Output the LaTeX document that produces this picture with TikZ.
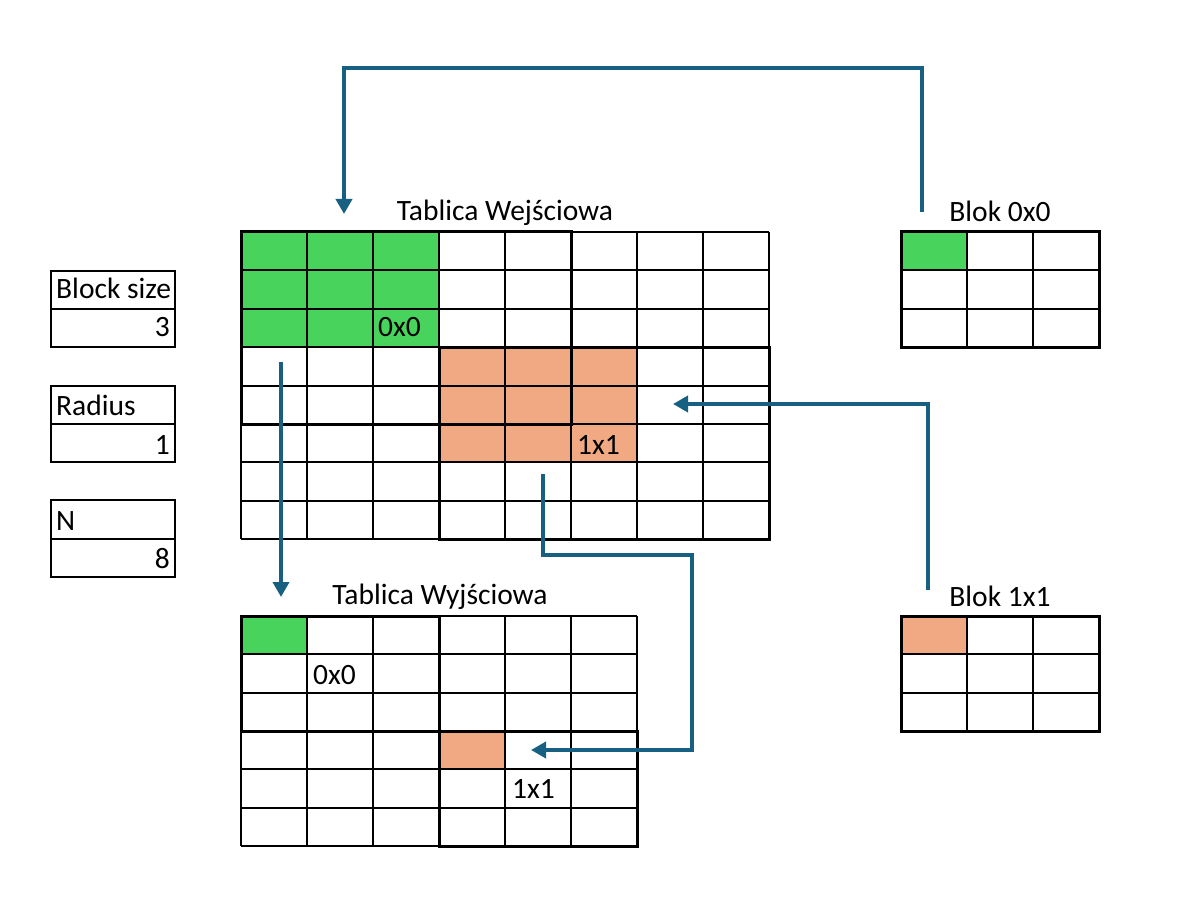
\documentclass[tikz,border=0pt]{standalone}
\usepackage{fontspec}
\setmainfont{Carlito}
\usetikzlibrary{arrows.meta}
\definecolor{flowblue}{RGB}{23,96,130}
\definecolor{cellgreen}{RGB}{72,212,92}
\definecolor{cellorange}{RGB}{240,169,131}
\begin{document}
\begin{tikzpicture}[x=1pt,y=-1pt,
	gridline/.style={line width=1.3pt},
	blockline/.style={line width=3pt},
	flow/.style={draw=flowblue,line width=3.6pt,-{Triangle[length=15pt,width=16pt]}},
	txt/.style={inner sep=0pt,font=\fontsize{29.5}{34}\selectfont}]

		\useasboundingbox (0,0) rectangle (1186,909);

		% tablica wejsciowa
		\fill[cellgreen] (241,232) rectangle (439,347);
		\fill[cellorange] (439,347) rectangle (637,462);

		\draw[gridline] (241,232) -- (769,232);
		\draw[gridline] (241,270) -- (769,270);
		\draw[gridline] (241,309) -- (769,309);
		\draw[gridline] (241,347) -- (769,347);
		\draw[gridline] (241,386) -- (769,386);
		\draw[gridline] (241,424) -- (769,424);
		\draw[gridline] (241,462) -- (769,462);
		\draw[gridline] (241,501) -- (769,501);
		\draw[gridline] (241,539) -- (769,539);

		\draw[gridline] (241,232) -- (241,539);
		\draw[gridline] (307,232) -- (307,539);
		\draw[gridline] (373,232) -- (373,539);
		\draw[gridline] (439,232) -- (439,539);
		\draw[gridline] (505,232) -- (505,539);
		\draw[gridline] (571,232) -- (571,539);
		\draw[gridline] (637,232) -- (637,539);
		\draw[gridline] (703,232) -- (703,539);
		\draw[gridline] (769,232) -- (769,539);

		\draw[blockline] (241,232) rectangle (571,424);
		\draw[blockline] (439,347) rectangle (769,539);

		\node[txt,anchor=base] (tin) at (505,221) {Tablica Wejściowa};
		\node[txt,anchor=base west] (in00) at (378,337) {0x0};
		\node[txt,anchor=base west] (in11) at (577,454) {1x1};

		% tablica wyjsciowa
		\fill[cellgreen] (241,616) rectangle (307,654);
		\fill[cellorange] (439,731) rectangle (505,769);

		\draw[gridline] (241,616) -- (637,616);
		\draw[gridline] (241,654) -- (637,654);
		\draw[gridline] (241,693) -- (637,693);
		\draw[gridline] (241,731) -- (637,731);
		\draw[gridline] (241,769) -- (637,769);
		\draw[gridline] (241,808) -- (637,808);
		\draw[gridline] (241,846) -- (637,846);

		\draw[gridline] (241,616) -- (241,846);
		\draw[gridline] (307,616) -- (307,846);
		\draw[gridline] (373,616) -- (373,846);
		\draw[gridline] (439,616) -- (439,846);
		\draw[gridline] (505,616) -- (505,846);
		\draw[gridline] (571,616) -- (571,846);
		\draw[gridline] (637,616) -- (637,846);

		\draw[blockline] (241,616) rectangle (439,731);
		\draw[blockline] (439,731) rectangle (637,846);

		\node[txt,anchor=base] (tout) at (440,604) {Tablica Wyjściowa};
		\node[txt,anchor=base west] (out00) at (313,684) {0x0};
		\node[txt,anchor=base west] (out11) at (512,798) {1x1};

		% bloki
		\fill[cellgreen] (901,232) rectangle (967,270);
		\draw[gridline] (901,270) -- (1099,270);
		\draw[gridline] (901,309) -- (1099,309);
		\draw[gridline] (967,232) -- (967,347);
		\draw[gridline] (1033,232) -- (1033,347);
		\draw[blockline] (901,232) rectangle (1099,347);
		\node[txt,anchor=base] (b00) at (1000,222) {Blok 0x0};

		\fill[cellorange] (901,616) rectangle (967,654);
		\draw[gridline] (901,654) -- (1099,654);
		\draw[gridline] (901,693) -- (1099,693);
		\draw[gridline] (967,616) -- (967,731);
		\draw[gridline] (1033,616) -- (1033,731);
		\draw[blockline] (901,616) rectangle (1099,731);
		\node[txt,anchor=base] (b11) at (1000,606) {Blok 1x1};

		% parametry
		\draw[gridline] (51,271) rectangle (175,347);
		\draw[gridline] (51,309) -- (175,309);
		\draw[gridline] (51,386) rectangle (175,462);
		\draw[gridline] (51,424) -- (175,424);
		\draw[gridline] (51,500) rectangle (175,577);
		\draw[gridline] (51,539) -- (175,539);

		\node[txt,anchor=base west] (bs) at (56,299) {Block size};
		\node[txt,anchor=base east] (bsv) at (170,337) {3};
		\node[txt,anchor=base west] (rad) at (56,415) {Radius};
		\node[txt,anchor=base east] (radv) at (170,454) {1};
		\node[txt,anchor=base west] (nn) at (56,530) {N};
		\node[txt,anchor=base east] (nv) at (170,568) {8};

		% strzalki
		\coordinate (a1s) at (922,212);
		\coordinate (a1e) at (344,214);
		\coordinate (a2s) at (928,590);
		\coordinate (a2e) at (673,404);
		\coordinate (a3s) at (281,362);
		\coordinate (a3e) at (281,597);
		\coordinate (a4s) at (543,474);
		\coordinate (a4e) at (531,750);

		\draw[flow] (a1s) -- (922,68) -| (a1e);
		\draw[flow] (a2s) |- (a2e);
		\draw[flow] (a3s) -- (a3e);
		\draw[flow] (a4s) -- (543,555) -| (692,750) -- (a4e);
	\end{tikzpicture}
\end{document}
